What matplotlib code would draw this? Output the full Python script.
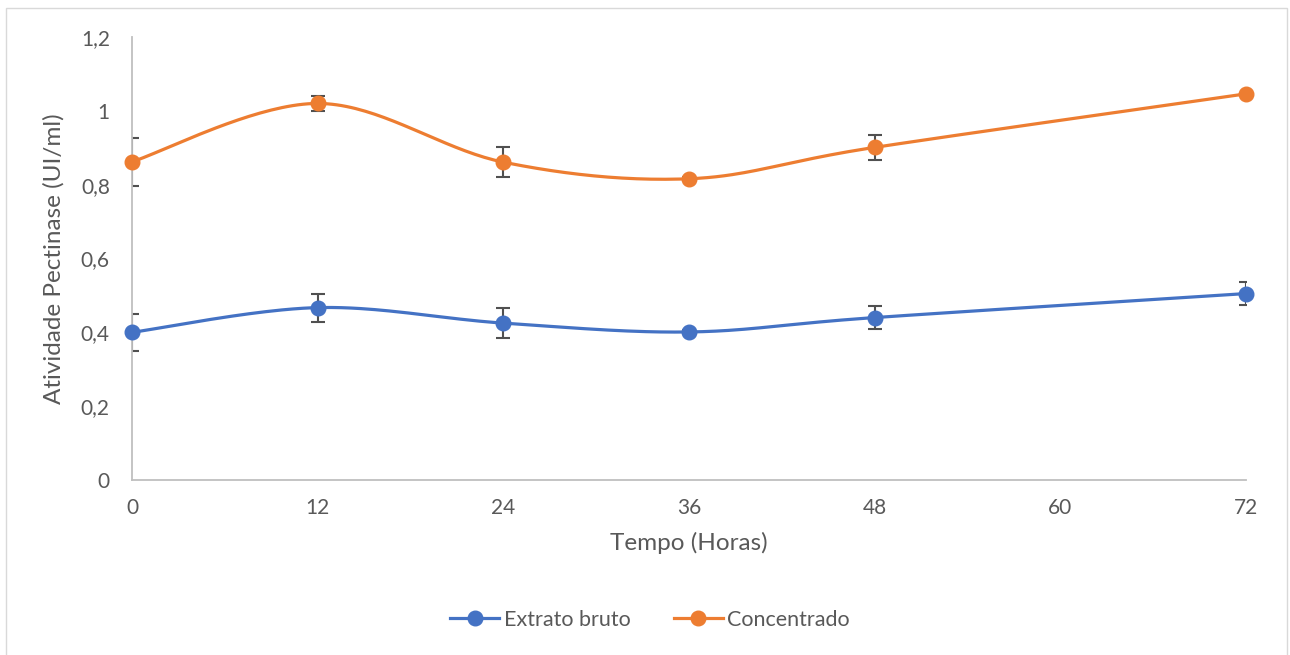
import numpy as np
import matplotlib
matplotlib.use("Agg")
import matplotlib.pyplot as plt
from matplotlib.patches import Rectangle
from matplotlib.lines import Line2D

hours = [0, 12, 24, 36, 48, 72]
extrato = [0.400, 0.467, 0.425, 0.401, 0.440, 0.505]
extrato_err = [0.050, 0.038, 0.040, 0.006, 0.030, 0.032]
concentrado = [0.862, 1.020, 0.861, 0.816, 0.901, 1.046]
concentrado_err = [0.065, 0.020, 0.040, 0.004, 0.033, 0.0]
x_ticks = [0, 12, 24, 36, 48, 60, 72]
y_ticks = [0, 0.2, 0.4, 0.6, 0.8, 1.0, 1.2]
y_tick_labels = ["0", "0,2", "0,4", "0,6", "0,8", "1", "1,2"]

BLUE = "#4472C4"
ORANGE = "#ED7D31"
TEXT = "#595959"
AXIS = "#BFBFBF"

plt.rcParams["font.family"] = ["Lato", "DejaVu Sans"]


def smooth(xs, ys, n=40):
    xs = np.asarray(xs, float)
    ys = np.asarray(ys, float)
    px = np.concatenate([[xs[0]], xs, [xs[-1]]])
    py = np.concatenate([[ys[0]], ys, [ys[-1]]])
    outx, outy = [], []
    t = np.linspace(0, 1, n)
    for i in range(1, len(px) - 2):
        p0 = np.array([px[i], py[i]])
        p1 = np.array([px[i + 1], py[i + 1]])
        c1 = p0 + (np.array([px[i + 1], py[i + 1]]) - np.array([px[i - 1], py[i - 1]])) / 6
        c2 = p1 - (np.array([px[i + 2], py[i + 2]]) - np.array([px[i], py[i]])) / 6
        b = ((1 - t) ** 3)[:, None] * p0 + (3 * (1 - t) ** 2 * t)[:, None] * c1 \
            + (3 * (1 - t) * t ** 2)[:, None] * c2 + (t ** 3)[:, None] * p1
        outx.extend(b[:, 0])
        outy.extend(b[:, 1])
    return outx, outy


fig = plt.figure(figsize=(12.9, 6.55), dpi=100)
fig.patches.append(Rectangle((6 / 1290, -0.05), (1287 - 6) / 1290, 1 - 8 / 655 + 0.05,
                             transform=fig.transFigure, fill=False,
                             edgecolor="#D9D9D9", linewidth=1.0))

ax = fig.add_axes([132 / 1290, 1 - 480 / 655, (1246 - 132) / 1290, (480 - 37) / 655])

for ys, errs, color, label in [(extrato, extrato_err, BLUE, "Extrato bruto"),
                                (concentrado, concentrado_err, ORANGE, "Concentrado")]:
    sx, sy = smooth(hours, ys)
    ax.plot(sx, sy, color=color, linewidth=2.3, zorder=3, solid_capstyle="round")
    ax.errorbar(hours, ys, yerr=errs, fmt="none", ecolor="#505050", elinewidth=1.5,
                capsize=5, capthick=1.5, zorder=2)
    ax.plot(hours, ys, linestyle="none", marker="o", markersize=10.5,
            color=color, zorder=4, clip_on=False)

ax.set_xlim(0, 72)
ax.set_ylim(0, 1.2)
ax.set_xticks(x_ticks)
ax.set_xticklabels([str(v) for v in x_ticks])
ax.set_yticks(y_ticks)
ax.set_yticklabels(y_tick_labels)
ax.tick_params(axis="both", length=0, labelsize=15, labelcolor=TEXT)
ax.tick_params(axis="x", pad=13)
ax.tick_params(axis="y", pad=16)

for side in ["top", "right"]:
    ax.spines[side].set_visible(False)
for side in ["left", "bottom"]:
    ax.spines[side].set_color(AXIS)
    ax.spines[side].set_linewidth(1.3)

ax.set_xlabel("Tempo (Horas)", fontsize=17.5, color=TEXT, labelpad=10)
ax.set_ylabel("Atividade Pectinase (UI/ml)", fontsize=17.5, color=TEXT, labelpad=12)

handles = [Line2D([0], [0], color=BLUE, linewidth=2.3, marker="o", markersize=10.5),
           Line2D([0], [0], color=ORANGE, linewidth=2.3, marker="o", markersize=10.5)]
fig.legend(handles, ["Extrato bruto", "Concentrado"], loc="center",
           bbox_to_anchor=(650 / 1290, 1 - 620 / 655), ncol=2, frameon=False,
           fontsize=15.5, labelcolor=TEXT, handlelength=2.3, columnspacing=2.0,
           handletextpad=0.2)

fig.savefig("out.png", dpi=100)
